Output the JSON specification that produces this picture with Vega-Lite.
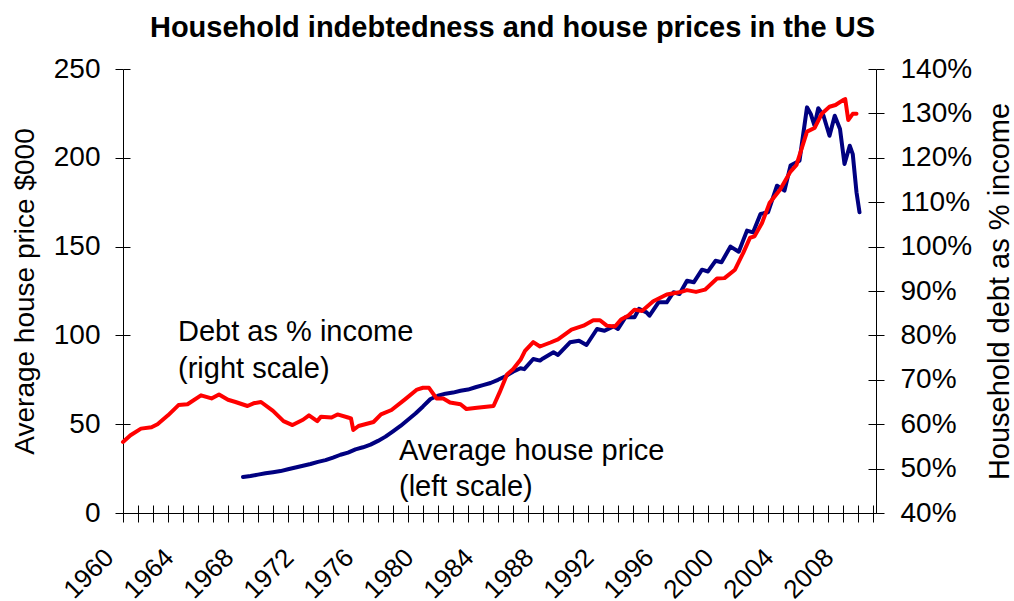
{
  "$schema": "https://vega.github.io/schema/vega-lite/v6.json",
  "width": 753,
  "height": 444,
  "autosize": {"type": "none"},
  "padding": {"left": 123, "top": 69, "right": 138, "bottom": 88},
  "title": {"text": "Household indebtedness and house prices in the US", "fontSize": 29, "fontWeight": "bold", "font": "Liberation Sans", "anchor": "middle", "dx": 13, "dy": 28, "offset": 17, "baseline": "alphabetic", "color": "black"},
  "datasets": {
    "price": [
      {"year": 1968.0, "value": 20.3}, {"year": 1968.5, "value": 20.8}, {"year": 1969.0, "value": 21.6}, {"year": 1969.5, "value": 22.4},
      {"year": 1970.0, "value": 23.0}, {"year": 1970.5, "value": 23.6}, {"year": 1971.0, "value": 24.6}, {"year": 1971.5, "value": 25.6},
      {"year": 1972.0, "value": 26.6}, {"year": 1972.5, "value": 27.6}, {"year": 1973.0, "value": 28.8}, {"year": 1973.5, "value": 29.8},
      {"year": 1974.0, "value": 31.2}, {"year": 1974.5, "value": 32.8}, {"year": 1975.0, "value": 34.0}, {"year": 1975.5, "value": 35.8},
      {"year": 1976.0, "value": 37.0}, {"year": 1976.5, "value": 38.5}, {"year": 1977.0, "value": 40.6}, {"year": 1977.5, "value": 43.0},
      {"year": 1978.0, "value": 46.0}, {"year": 1978.5, "value": 49.0}, {"year": 1979.0, "value": 52.5}, {"year": 1979.5, "value": 56.0},
      {"year": 1980.0, "value": 60.0}, {"year": 1980.5, "value": 64.2}, {"year": 1981.0, "value": 66.0}, {"year": 1981.5, "value": 67.2},
      {"year": 1982.0, "value": 67.8}, {"year": 1982.5, "value": 68.8}, {"year": 1983.0, "value": 69.5}, {"year": 1983.5, "value": 70.8},
      {"year": 1984.0, "value": 72.0}, {"year": 1984.5, "value": 73.2}, {"year": 1985.0, "value": 75.0}, {"year": 1985.5, "value": 77.0},
      {"year": 1986.0, "value": 79.5}, {"year": 1986.5, "value": 81.5}, {"year": 1986.75, "value": 81.0}, {"year": 1987.35, "value": 86.7},
      {"year": 1987.8, "value": 85.8}, {"year": 1988.0, "value": 87.0}, {"year": 1988.7, "value": 90.5}, {"year": 1989.0, "value": 89.0},
      {"year": 1989.8, "value": 96.1}, {"year": 1990.4, "value": 97.0}, {"year": 1990.9, "value": 94.6}, {"year": 1991.6, "value": 103.6},
      {"year": 1992.1, "value": 102.6}, {"year": 1992.7, "value": 105.1}, {"year": 1993.0, "value": 103.6}, {"year": 1993.5, "value": 110.2},
      {"year": 1994.1, "value": 110.2}, {"year": 1994.4, "value": 114.9}, {"year": 1994.9, "value": 113.0}, {"year": 1995.1, "value": 111.1},
      {"year": 1995.7, "value": 118.6}, {"year": 1996.25, "value": 118.6}, {"year": 1996.7, "value": 124.3}, {"year": 1997.1, "value": 123.3},
      {"year": 1997.6, "value": 130.8}, {"year": 1998.05, "value": 129.9}, {"year": 1998.6, "value": 137.0}, {"year": 1999.0, "value": 136.0},
      {"year": 1999.5, "value": 142.0}, {"year": 1999.9, "value": 141.2}, {"year": 2000.5, "value": 150.0}, {"year": 2001.05, "value": 147.1},
      {"year": 2001.6, "value": 159.0}, {"year": 2002.0, "value": 158.0}, {"year": 2002.5, "value": 168.4}, {"year": 2003.0, "value": 169.3},
      {"year": 2003.6, "value": 184.3}, {"year": 2004.1, "value": 181.5}, {"year": 2004.5, "value": 195.6}, {"year": 2005.1, "value": 198.4},
      {"year": 2005.6, "value": 228.4}, {"year": 2005.85, "value": 224.7}, {"year": 2006.1, "value": 218.1}, {"year": 2006.35, "value": 227.9},
      {"year": 2006.7, "value": 223.7}, {"year": 2007.1, "value": 212.4}, {"year": 2007.45, "value": 223.7}, {"year": 2007.8, "value": 216.2},
      {"year": 2008.1, "value": 196.5}, {"year": 2008.45, "value": 206.8}, {"year": 2008.65, "value": 202.1}, {"year": 2008.9, "value": 180.6},
      {"year": 2009.1, "value": 169.3}
    ],
    "debt": [
      {"year": 1960.0, "value": 56.0}, {"year": 1960.5, "value": 57.5}, {"year": 1961.2, "value": 59.0}, {"year": 1961.9, "value": 59.3},
      {"year": 1962.3, "value": 60.0}, {"year": 1963.0, "value": 62.0}, {"year": 1963.7, "value": 64.3}, {"year": 1964.3, "value": 64.5},
      {"year": 1965.2, "value": 66.5}, {"year": 1965.9, "value": 65.8}, {"year": 1966.4, "value": 66.7}, {"year": 1967.0, "value": 65.5},
      {"year": 1967.5, "value": 65.0}, {"year": 1968.3, "value": 64.1}, {"year": 1968.7, "value": 64.7}, {"year": 1969.2, "value": 65.0},
      {"year": 1970.0, "value": 63.0}, {"year": 1970.7, "value": 60.7}, {"year": 1971.3, "value": 59.8}, {"year": 1972.0, "value": 61.0},
      {"year": 1972.4, "value": 62.0}, {"year": 1972.95, "value": 60.7}, {"year": 1973.2, "value": 61.7}, {"year": 1973.9, "value": 61.5},
      {"year": 1974.3, "value": 62.2}, {"year": 1975.0, "value": 61.5}, {"year": 1975.2, "value": 61.3}, {"year": 1975.35, "value": 58.7},
      {"year": 1975.7, "value": 59.6}, {"year": 1976.7, "value": 60.5}, {"year": 1977.2, "value": 62.2}, {"year": 1977.9, "value": 63.2},
      {"year": 1978.8, "value": 65.6}, {"year": 1979.6, "value": 67.8}, {"year": 1980.0, "value": 68.2}, {"year": 1980.4, "value": 68.2},
      {"year": 1980.9, "value": 65.8}, {"year": 1981.35, "value": 65.8}, {"year": 1981.8, "value": 64.9}, {"year": 1982.5, "value": 64.5},
      {"year": 1982.9, "value": 63.4}, {"year": 1983.6, "value": 63.7}, {"year": 1984.7, "value": 64.1}, {"year": 1985.1, "value": 67.1},
      {"year": 1985.6, "value": 71.2}, {"year": 1986.0, "value": 72.4}, {"year": 1986.5, "value": 74.5}, {"year": 1986.8, "value": 76.5},
      {"year": 1987.35, "value": 78.5}, {"year": 1987.8, "value": 77.5}, {"year": 1988.5, "value": 78.4}, {"year": 1989.0, "value": 79.1},
      {"year": 1989.9, "value": 81.3}, {"year": 1990.7, "value": 82.2}, {"year": 1991.35, "value": 83.4}, {"year": 1991.8, "value": 83.4},
      {"year": 1992.25, "value": 82.2}, {"year": 1992.8, "value": 82.0}, {"year": 1993.2, "value": 83.6}, {"year": 1993.7, "value": 84.5},
      {"year": 1994.1, "value": 85.8}, {"year": 1994.6, "value": 85.5}, {"year": 1995.35, "value": 87.7}, {"year": 1996.25, "value": 89.2},
      {"year": 1997.1, "value": 89.7}, {"year": 1997.6, "value": 90.2}, {"year": 1998.2, "value": 89.8}, {"year": 1998.8, "value": 90.3},
      {"year": 1999.6, "value": 92.8}, {"year": 2000.1, "value": 92.9}, {"year": 2000.8, "value": 94.8}, {"year": 2001.35, "value": 98.6},
      {"year": 2001.8, "value": 102.0}, {"year": 2002.1, "value": 102.3}, {"year": 2002.6, "value": 105.3}, {"year": 2003.1, "value": 109.8},
      {"year": 2003.8, "value": 112.8}, {"year": 2004.5, "value": 116.9}, {"year": 2004.9, "value": 118.4}, {"year": 2005.6, "value": 125.9},
      {"year": 2006.1, "value": 126.7}, {"year": 2006.6, "value": 130.0}, {"year": 2007.1, "value": 131.5}, {"year": 2007.5, "value": 131.9},
      {"year": 2008.0, "value": 133.0}, {"year": 2008.15, "value": 133.2}, {"year": 2008.35, "value": 128.5}, {"year": 2008.65, "value": 129.9},
      {"year": 2008.9, "value": 129.9}
    ],
    "notes": [
      {"label": "Debt as % income", "year": 1963.67, "value": 101.9},
      {"label": "(right scale)", "year": 1963.67, "value": 81.3},
      {"label": "Average house price", "year": 1978.4, "value": 35.1},
      {"label": "(left scale)", "year": 1978.4, "value": 14.9}
    ]
  },
  "layer": [
    {
      "data": {"name": "price"},
      "mark": {"type": "line", "color": "#000080", "strokeWidth": 4, "strokeJoin": "round", "strokeCap": "round"},
      "encoding": {
        "x": {"field": "year", "type": "quantitative", "scale": {"domain": [1960, 2010.2], "nice": false, "zero": false},
          "axis": {"orient": "bottom", "values": [1960,1961,1962,1963,1964,1965,1966,1967,1968,1969,1970,1971,1972,1973,1974,1975,1976,1977,1978,1979,1980,1981,1982,1983,1984,1985,1986,1987,1988,1989,1990,1991,1992,1993,1994,1995,1996,1997,1998,1999,2000,2001,2002,2003,2004,2005,2006,2007,2008,2009,2010],
            "format": "d", "labelExpr": "datum.value % 4 == 0 && datum.value <= 2008 ? datum.label : ''",
            "labelAngle": -45, "labelAlign": "right", "labelBaseline": "middle", "labelPadding": 31, "labelOffset": -14,
            "labelFontSize": 26, "labelColor": "black", "tickSize": 9, "tickColor": "black", "domainColor": "black",
            "grid": false, "title": null, "labelFlush": false, "labelOverlap": false, "labelBound": false}},
        "y": {"field": "value", "type": "quantitative", "scale": {"domain": [0, 250], "nice": false, "zero": false},
          "axis": {"orient": "left", "values": [0, 50, 100, 150, 200, 250], "format": "d", "tickSize": 8, "labelPadding": 15,
            "labelFontSize": 28, "labelColor": "black", "tickColor": "black", "domainColor": "black", "grid": false,
            "title": "Average house price $000", "titleFontSize": 28, "titleFontWeight": "normal", "titleColor": "black", "titlePadding": 14}}
      }
    },
    {
      "data": {"name": "notes"},
      "mark": {"type": "text", "align": "left", "baseline": "middle", "fontSize": 29, "font": "Liberation Sans", "color": "black"},
      "encoding": {
        "x": {"field": "year", "type": "quantitative", "scale": {"domain": [1960, 2010.2], "nice": false, "zero": false}, "axis": null},
        "y": {"field": "value", "type": "quantitative", "scale": {"domain": [0, 250], "nice": false, "zero": false}, "axis": null},
        "text": {"field": "label"}
      }
    },
    {
      "data": {"name": "debt"},
      "mark": {"type": "line", "color": "#FF0000", "strokeWidth": 4, "strokeJoin": "round", "strokeCap": "round"},
      "encoding": {
        "x": {"field": "year", "type": "quantitative", "scale": {"domain": [1960, 2010.2], "nice": false, "zero": false}, "axis": null},
        "y": {"field": "value", "type": "quantitative", "scale": {"domain": [40, 140], "nice": false, "zero": false},
          "axis": {"orient": "right", "values": [40, 50, 60, 70, 80, 90, 100, 110, 120, 130, 140], "labelExpr": "datum.value + '%'",
            "tickSize": 8, "labelPadding": 16, "labelFontSize": 28, "labelColor": "black", "tickColor": "black", "domainColor": "black",
            "grid": false, "title": "Household debt as % income", "titleFontSize": 29, "titleFontWeight": "normal", "titleColor": "black",
            "titleAngle": 270, "titleBaseline": "top", "titlePadding": 14}}
      }
    },
    {
      "data": {"name": "price"},
      "mark": {"type": "line", "opacity": 0},
      "encoding": {
        "x": {"field": "year", "type": "quantitative", "scale": {"domain": [1960, 2010.2], "nice": false, "zero": false},
          "axis": {"orient": "bottom", "values": [1960,1961,1962,1963,1964,1965,1966,1967,1968,1969,1970,1971,1972,1973,1974,1975,1976,1977,1978,1979,1980,1981,1982,1983,1984,1985,1986,1987,1988,1989,1990,1991,1992,1993,1994,1995,1996,1997,1998,1999,2000,2001,2002,2003,2004,2005,2006,2007,2008,2009,2010],
            "tickSize": -8, "tickColor": "black", "labels": false, "domain": false, "grid": false, "title": null}},
        "y": {"field": "value", "type": "quantitative", "scale": {"domain": [0, 250], "nice": false, "zero": false},
          "axis": {"orient": "left", "values": [0, 50, 100, 150, 200, 250], "tickSize": -7, "tickColor": "black", "labels": false, "domain": false, "grid": false, "title": null}}
      }
    },
    {
      "data": {"name": "debt"},
      "mark": {"type": "line", "opacity": 0},
      "encoding": {
        "x": {"field": "year", "type": "quantitative", "scale": {"domain": [1960, 2010.2], "nice": false, "zero": false}, "axis": null},
        "y": {"field": "value", "type": "quantitative", "scale": {"domain": [40, 140], "nice": false, "zero": false},
          "axis": {"orient": "right", "values": [40, 50, 60, 70, 80, 90, 100, 110, 120, 130, 140], "tickSize": -8, "tickColor": "black", "labels": false, "domain": false, "grid": false, "title": null}}
      }
    }
  ],
  "resolve": {"scale": {"y": "independent"}, "axis": {"x": "independent", "y": "independent"}},
  "config": {
    "font": "Liberation Sans",
    "view": {"stroke": null},
    "axis": {"labelFont": "Liberation Sans", "titleFont": "Liberation Sans", "domainWidth": 1, "tickWidth": 1}
  }
}
